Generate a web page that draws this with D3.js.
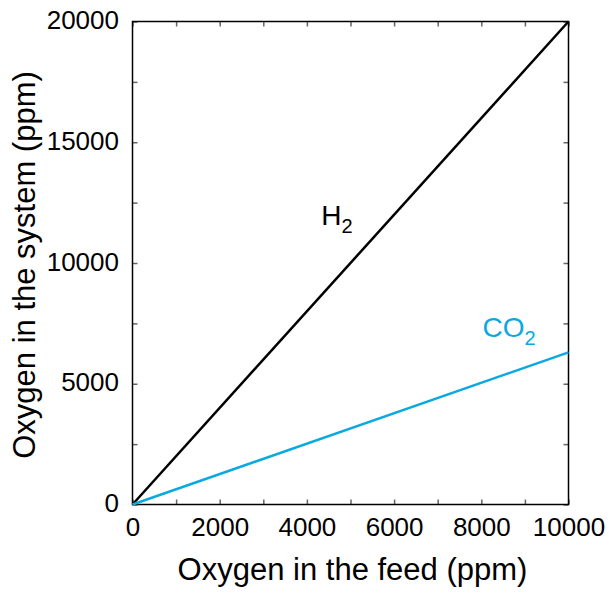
<!DOCTYPE html>
<html>
<head>
<meta charset="utf-8">
<script src="https://cdn.jsdelivr.net/npm/d3@7"></script>
<style>
  html, body { margin: 0; padding: 0; background: #fff; }
  svg { display: block; font-family: "Liberation Sans", Arial, sans-serif; }
</style>
</head>
<body>
<svg id="chart" width="609" height="594"></svg>
<script>
// Oxygen carried into the system versus oxygen in the feed, per carrier gas
const feedPpm = [0, 10000];
const h2System = [0, 20000];
const co2System = [0, 6300];
const xTicks = [0, 2000, 4000, 6000, 8000, 10000];
const yTicks = [0, 5000, 10000, 15000, 20000];
const xMinorTicks = [1000, 3000, 5000, 7000, 9000];
const yMinorTicks = [2500, 7500, 12500, 17500];

const margin = { left: 132.5, top: 21.5, right: 609 - 568.5, bottom: 594 - 504.5 };
const svg = d3.select("#chart");
const W = 609 - margin.left - margin.right;
const H = 594 - margin.top - margin.bottom;

const x = d3.scaleLinear().domain([0, 10000]).range([0, W]);
const y = d3.scaleLinear().domain([0, 20000]).range([H, 0]);

const g = svg.append("g").attr("transform", `translate(${margin.left},${margin.top})`);

const tickLen = 5;
const tickColor = "#666";
const tickFont = 26;

// inward ticks on all four sides
function ticks(axisGen, tr) {
  const a = g.append("g").attr("transform", tr).call(axisGen);
  a.select(".domain").remove();
  a.selectAll("line").attr("stroke", tickColor).attr("stroke-width", 1.5);
  return a;
}
const allX = xTicks.concat(xMinorTicks);
const allY = yTicks.concat(yMinorTicks);
ticks(d3.axisBottom(x).tickValues(allX).tickSize(-tickLen).tickFormat(""), `translate(0,${H})`);
ticks(d3.axisTop(x).tickValues(allX).tickSize(-tickLen).tickFormat(""), `translate(0,0)`);
ticks(d3.axisLeft(y).tickValues(allY).tickSize(-tickLen).tickFormat(""), `translate(0,0)`);
ticks(d3.axisRight(y).tickValues(allY).tickSize(-tickLen).tickFormat(""), `translate(${W},0)`);

// tick labels
const xl = g.append("g").attr("transform", `translate(0,${H})`)
  .call(d3.axisBottom(x).tickValues(xTicks).tickSize(0).tickPadding(0).tickFormat(d3.format("d")));
xl.select(".domain").remove();
xl.selectAll("text").attr("font-size", tickFont).attr("fill", "#000")
  .attr("font-family", "Liberation Sans, Arial, sans-serif")
  .attr("y", 31.5).attr("dy", null);

const yl = g.append("g")
  .call(d3.axisLeft(y).tickValues(yTicks).tickSize(0).tickPadding(13.5).tickFormat(d3.format("d")));
yl.select(".domain").remove();
yl.selectAll("text").attr("font-size", tickFont).attr("fill", "#000")
  .attr("font-family", "Liberation Sans, Arial, sans-serif")
  .attr("dy", "0.27em");

// frame
g.append("rect").attr("x", 0).attr("y", 0).attr("width", W).attr("height", H)
  .attr("fill", "none").attr("stroke", "#000").attr("stroke-width", 1.5);

// series lines
const line = d3.line().x(d => x(d[0])).y(d => y(d[1]));
g.append("path").datum(d3.zip(feedPpm, h2System)).attr("d", line)
  .attr("fill", "none").attr("stroke", "#000").attr("stroke-width", 2.5);
g.append("path").datum(d3.zip(feedPpm, co2System)).attr("d", line)
  .attr("fill", "none").attr("stroke", "#0aa9e0").attr("stroke-width", 2.5);

// series labels with subscript
function gasLabel(base, xPos, yPos, color) {
  const t = g.append("text").attr("x", xPos).attr("y", yPos)
    .attr("font-size", 28).attr("fill", color);
  t.append("tspan").text(base);
  t.append("tspan").attr("font-size", 20).attr("dy", 8).text("2");
}
gasLabel("H", x(4330), y(11560), "#000");
gasLabel("CO", x(8030), y(6930), "#0aa9e0");

// axis titles
svg.append("text").attr("x", margin.left + W / 2 + 2).attr("y", 580)
  .attr("text-anchor", "middle").attr("font-size", 31).attr("fill", "#000")
  .text("Oxygen in the feed (ppm)");
svg.append("text").attr("transform", `translate(35,${margin.top + H / 2 + 2}) rotate(-90)`)
  .attr("text-anchor", "middle").attr("font-size", 31).attr("fill", "#000")
  .text("Oxygen in the system (ppm)");
</script>
</body>
</html>
